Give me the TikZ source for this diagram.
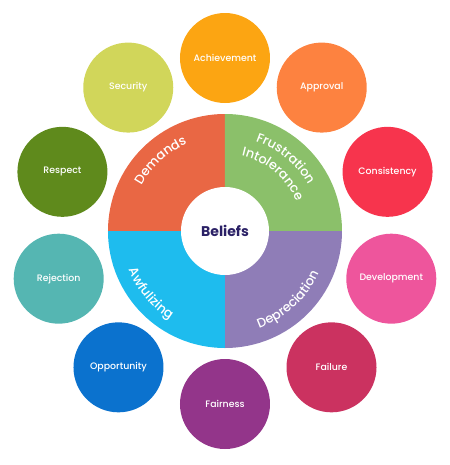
\documentclass[tikz,border=0pt]{standalone}
\usepackage{fontspec}
\setmainfont{Poppins}
\newfontfamily\medfont{Poppins Medium}
\usepackage{tikz}
\usetikzlibrary{decorations.text}

\definecolor{achieve}{RGB}{252,165,18}
\definecolor{approve}{RGB}{253,130,64}
\definecolor{consist}{RGB}{247,52,77}
\definecolor{develop}{RGB}{238,85,156}
\definecolor{fail}{RGB}{203,50,96}
\definecolor{fair}{RGB}{147,53,138}
\definecolor{oppor}{RGB}{11,114,206}
\definecolor{reject}{RGB}{85,182,178}
\definecolor{respect}{RGB}{95,138,28}
\definecolor{secure}{RGB}{209,214,90}
\definecolor{demands}{RGB}{233,103,68}
\definecolor{frustr}{RGB}{139,192,106}
\definecolor{deprec}{RGB}{143,125,183}
\definecolor{awful}{RGB}{30,188,238}
\definecolor{beliefs}{RGB}{43,33,102}

\begin{document}
\begin{tikzpicture}[x=0.03cm, y=0.03cm,
    bubble/.style={circle, minimum size=2.7cm, inner sep=0pt, text=white, font=\medfont\fontsize{8}{10}\selectfont},
    wheeltext/.style={decorate, decoration={text along path, text align=center, text color=white, text={|\medfont\fontsize{11}{13}\selectfont|#1}}}]
    \useasboundingbox (-225,-234) rectangle (225,231);
    \foreach \a/\n/\c in {90/Achievement/achieve, 56/Approval/approve, 20/Consistency/consist, -16/Development/develop, -52/Failure/fail, -90/Fairness/fair, -128/Opportunity/oppor, -164/Rejection/reject, 160/Respect/respect, 124/Security/secure} {
        \node[bubble, fill=\c] (\n) at (\a:173) {\n};
    }
    \fill[demands] (0,0) -- (180:117) arc[start angle=180, end angle=90, radius=117] -- cycle;
    \fill[frustr] (0,0) -- (90:117) arc[start angle=90, end angle=0, radius=117] -- cycle;
    \fill[deprec] (0,0) -- (0:117) arc[start angle=0, end angle=-90, radius=117] -- cycle;
    \fill[awful] (0,0) -- (-90:117) arc[start angle=-90, end angle=-180, radius=117] -- cycle;
    \node[circle, fill=white, minimum size=2.64cm, inner sep=0pt, text=beliefs, font=\bfseries\fontsize{12}{14}\selectfont] (center) at (0,0) {Beliefs};
    \path[wheeltext=Demands] (172.5:95) arc[start angle=172.5, end angle=92.5, radius=95];
    \path[wheeltext=Frustration] (90:95) arc[start angle=90, end angle=10, radius=95];
    \path[wheeltext=Intolerance] (90:77) arc[start angle=90, end angle=10, radius=77];
    \path[wheeltext=Depreciation] (-87.5:103) arc[start angle=-87.5, end angle=-7.5, radius=103];
    \path[wheeltext=Awfulizing] (180:104) arc[start angle=180, end angle=260, radius=104];
\end{tikzpicture}
\end{document}
